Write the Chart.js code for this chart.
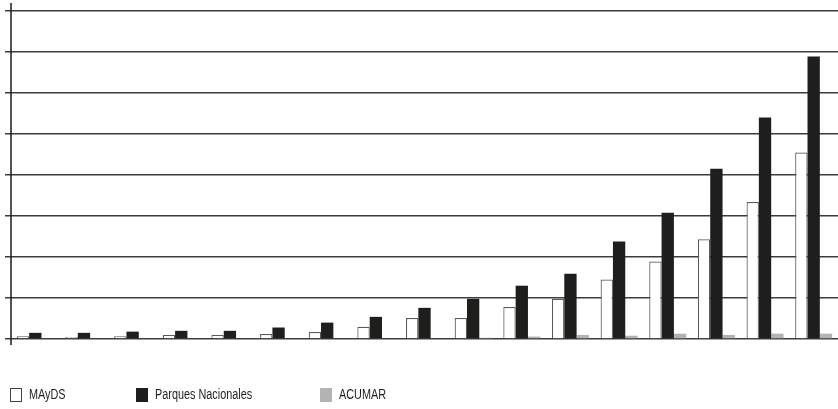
<!DOCTYPE html>
<html>
<head>
<meta charset="utf-8">
<script src="https://cdn.jsdelivr.net/npm/chart.js@4"></script>
<style>
  html, body { margin: 0; padding: 0; background: #fff; }
  #wrap { position: relative; width: 838px; height: 409px; }
  #legend { position: absolute; top: 386px; left: 0; font-family: "Liberation Sans", Arial, sans-serif; font-size: 15.5px; color: #1f1f1f; }
  .item { position: absolute; top: 0; white-space: nowrap; line-height: 16px; }
  .box { position: absolute; top: 2px; width: 12px; height: 14px; box-sizing: border-box; }
  .lbl { position: absolute; top: 0px; transform: scaleX(0.7); transform-origin: 0 0; }
</style>
</head>
<body>
<div id="wrap">
  <canvas id="chart" width="838" height="409"></canvas>
  <div id="legend"></div>
</div>
<script>
// 17 periods, no labels shown on the axis
const categories = ['1', '2', '3', '4', '5', '6', '7', '8', '9', '10', '11', '12', '13', '14', '15', '16', '17'];
const seriesNames = ['MAyDS', 'Parques Nacionales', 'ACUMAR'];

// values in gridline units (8 gridlines)
const mayds = [0.07, 0.05, 0.07, 0.1, 0.1, 0.12, 0.17, 0.3, 0.51, 0.51, 0.78, 0.98, 1.45, 1.89, 2.43, 3.34, 4.55];
const parques = [0.15, 0.15, 0.18, 0.2, 0.2, 0.28, 0.4, 0.54, 0.76, 0.98, 1.3, 1.59, 2.38, 3.08, 4.15, 5.4, 6.89];
const acumar = [0, 0, 0, 0, 0, 0, 0, 0, 0, 0.03, 0.06, 0.1, 0.08, 0.13, 0.1, 0.13, 0.13];

const fills = ['#ffffff', '#1e1e1c', '#b3b3b3'];
const borders = ['#5a5a5a', '#1e1e1c', '#b3b3b3'];

// y axis line running a bit past the plot, like the original
const axisLine = {
  id: 'axisLine',
  afterDraw(chart) {
    const a = chart.chartArea;
    const ctx = chart.ctx;
    ctx.save();
    ctx.strokeStyle = '#1a1a1a';
    ctx.lineWidth = 1.5;
    ctx.beginPath();
    ctx.moveTo(a.left, a.top - 8);
    ctx.lineTo(a.left, a.bottom + 6);
    ctx.stroke();
    ctx.restore();
  }
};

const ctx = document.getElementById('chart').getContext('2d');
const chart = new Chart(ctx, {
  type: 'bar',
  data: {
    labels: categories,
    datasets: [
      { label: seriesNames[0], data: mayds, backgroundColor: fills[0], borderColor: borders[0], borderWidth: 1.2 },
      { label: seriesNames[1], data: parques, backgroundColor: fills[1], borderColor: borders[1], borderWidth: 0 },
      { label: seriesNames[2], data: acumar, backgroundColor: fills[2], borderColor: borders[2], borderWidth: 0 }
    ]
  },
  options: {
    responsive: false,
    animation: false,
    layout: { padding: { left: 5, top: 11, right: 0, bottom: 70 } },
    datasets: { bar: { categoryPercentage: 0.76, barPercentage: 1 } },
    scales: {
      x: { display: false },
      y: {
        min: 0,
        max: 8,
        ticks: { display: false, stepSize: 1 },
        grid: { color: '#3c3c3c', lineWidth: 1.5, tickLength: 6, tickColor: '#3c3c3c' },
        border: { display: false }
      }
    },
    plugins: {
      legend: { display: false },
      tooltip: { enabled: false }
    }
  },
  plugins: [axisLine]
});

// legend built from the datasets
const legendX = [10, 136, 320];
const legendEl = document.getElementById('legend');
chart.data.datasets.forEach((ds, i) => {
  const item = document.createElement('div');
  item.className = 'item';
  item.style.left = legendX[i] + 'px';
  const box = document.createElement('span');
  box.className = 'box';
  box.style.left = '0px';
  box.style.background = ds.backgroundColor;
  box.style.border = i === 0 ? '1px solid #444' : 'none';
  const lbl = document.createElement('span');
  lbl.className = 'lbl';
  lbl.style.left = '19px';
  lbl.textContent = ds.label;
  item.appendChild(box);
  item.appendChild(lbl);
  legendEl.appendChild(item);
});
</script>
</body>
</html>
